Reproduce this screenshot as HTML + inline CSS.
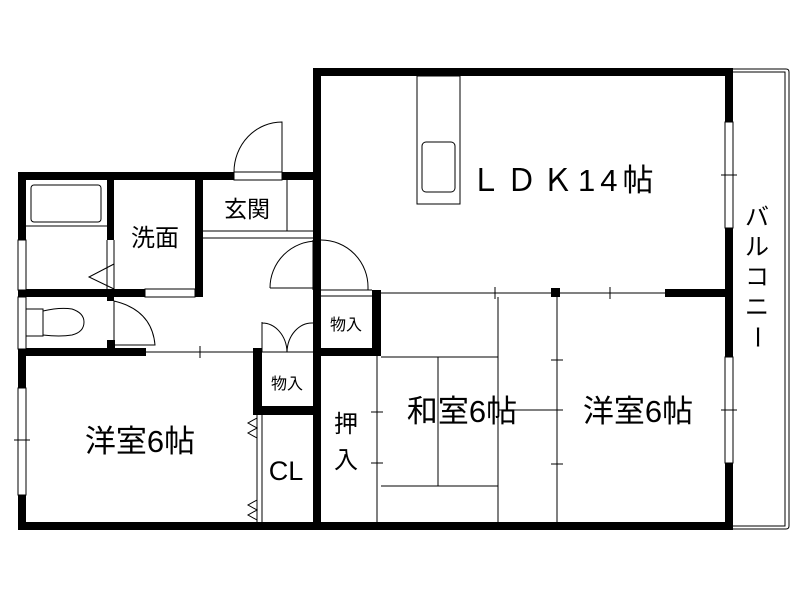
<!DOCTYPE html>
<html><head><meta charset="utf-8"><style>
html,body{margin:0;padding:0;background:#fff;}
svg{display:block;}
text{font-family:"Liberation Sans","Noto Sans CJK JP",sans-serif;fill:#000;}
</style></head><body>
<svg width="800" height="600" viewBox="0 0 800 600" xmlns="http://www.w3.org/2000/svg">
<rect width="800" height="600" fill="#fff"/>
<path d="M733 69 H786 Q789 69 789 72 V526 Q789 529 786 529 H733" fill="none" stroke="#000" stroke-width="1"/>
<path d="M733 72 H785 V526 H733" fill="none" stroke="#000" stroke-width="1"/>
<g fill="#000">
<rect x="313" y="68" width="420" height="8"/>
<rect x="313" y="68" width="8" height="462"/>
<rect x="725" y="68" width="8" height="462"/>
<rect x="18" y="172" width="216" height="8"/>
<rect x="282" y="172" width="39" height="8"/>
<rect x="18" y="172" width="8" height="358"/>
<rect x="18" y="522" width="715" height="8"/>
<rect x="107" y="180" width="7" height="60"/>
<rect x="195" y="180" width="8" height="117"/>
<rect x="18" y="289" width="127" height="8"/>
<rect x="107" y="297" width="7" height="4"/>
<rect x="107" y="340" width="8" height="10"/>
<rect x="18" y="348" width="128" height="8"/>
<rect x="253" y="348" width="9" height="66"/>
<rect x="253" y="406" width="68" height="9"/>
<rect x="372" y="290" width="9" height="66"/>
<rect x="313" y="348" width="68" height="8"/>
<rect x="665" y="289" width="68" height="8"/>
<rect x="551" y="288" width="9" height="9"/>
</g>
<g fill="none" stroke="#000" stroke-width="1">
<rect x="725" y="122" width="8" height="106" fill="#fff"/>
<rect x="725" y="357" width="8" height="106" fill="#fff"/>
<rect x="18" y="240" width="8" height="50" fill="#fff"/>
<rect x="18" y="297" width="8" height="52" fill="#fff"/>
<rect x="18" y="388" width="8" height="107" fill="#fff"/>
<line x1="14" y1="440" x2="30" y2="440"/>
<line x1="721" y1="175" x2="737" y2="175"/>
<line x1="721" y1="410" x2="737" y2="410"/>
<rect x="234" y="172" width="48" height="8" fill="#fff"/>
<path d="M282 172 V122 A48 50 0 0 0 234 172"/>
<line x1="203" y1="231" x2="313" y2="231"/>
<line x1="203" y1="238" x2="313" y2="238"/>
<line x1="287" y1="180" x2="287" y2="231"/>
<rect x="31" y="185" width="70" height="37" rx="3"/>
<line x1="26" y1="226" x2="107" y2="226"/>
<path d="M107 240 V289 M114 240 V289"/>
<path d="M114 264 L89 277 L114 289"/>
<rect x="145" y="289" width="50" height="8" fill="#fff"/>
<rect x="26" y="309" width="17" height="27"/>
<path d="M43 311 Q60 307 72 309 Q84 313 84 322 Q84 332 72 335 Q60 337 43 335"/>
<path d="M114 301 V345 H155 Q152 310 114 301"/>
<line x1="146" y1="352" x2="253" y2="352"/>
<line x1="200" y1="346" x2="200" y2="358"/>
<path d="M270 288 A47 47 0 0 1 317 241 M270 288 H317"/>
<line x1="313" y1="240" x2="313" y2="290"/>
<path d="M321 240 A47 47 0 0 1 368 288 V290"/>
<line x1="321" y1="290" x2="372" y2="290"/>
<line x1="321" y1="296" x2="372" y2="296"/>
<path d="M262 322 V352 M262 323 A25 30 0 0 1 287 352 M313 323 A25 30 0 0 0 287 352 M262 352 H313"/>
<line x1="381" y1="293" x2="665" y2="293"/>
<line x1="495" y1="287" x2="495" y2="299"/>
<line x1="610" y1="287" x2="610" y2="299"/>
<rect x="417" y="76" width="43" height="128"/>
<rect x="422" y="142" width="33" height="50" rx="4"/>
<line x1="377" y1="356" x2="377" y2="522"/>
<line x1="371" y1="412" x2="383" y2="412"/>
<line x1="371" y1="463" x2="383" y2="463"/>
<line x1="381" y1="357" x2="498" y2="357"/>
<line x1="438" y1="357" x2="438" y2="486"/>
<line x1="381" y1="486" x2="498" y2="486"/>
<line x1="498" y1="297" x2="498" y2="522"/>
<line x1="498" y1="410" x2="557" y2="410"/>
<line x1="557" y1="297" x2="557" y2="522"/>
<line x1="551" y1="360" x2="563" y2="360"/>
<line x1="551" y1="410" x2="563" y2="410"/>
<line x1="551" y1="464" x2="563" y2="464"/>
<line x1="262" y1="415" x2="262" y2="522"/>
<line x1="257" y1="415" x2="257" y2="522"/>
<path d="M257 418 L248 423 L257 428 L248 433 L257 438"/>
<path d="M257 500 L248 505 L257 510 L248 515 L257 520"/>
</g>
<text x="155" y="246" font-size="24" text-anchor="middle">洗面</text>
<text x="247" y="217" font-size="23" text-anchor="middle">玄関</text>
<text x="470" y="191" font-size="31" letter-spacing="5">ＬＤＫ14帖</text>
<text x="757" y="225" font-size="24" text-anchor="middle">バ</text>
<text x="757" y="255" font-size="24" text-anchor="middle">ル</text>
<text x="757" y="285" font-size="24" text-anchor="middle">コ</text>
<text x="757" y="315" font-size="24" text-anchor="middle">ニ</text>
<text x="757" y="345" font-size="24" text-anchor="middle" transform="rotate(90 757 337)">ー</text>
<text x="346" y="330" font-size="16" text-anchor="middle">物入</text>
<text x="287" y="389" font-size="16" text-anchor="middle">物入</text>
<text x="462" y="422" font-size="31" text-anchor="middle">和室6帖</text>
<text x="638" y="422" font-size="31" text-anchor="middle">洋室6帖</text>
<text x="140" y="452" font-size="31" text-anchor="middle">洋室6帖</text>
<text x="286" y="480" font-size="27" text-anchor="middle">CL</text>
<text x="346" y="432" font-size="24" text-anchor="middle">押</text>
<text x="346" y="468" font-size="24" text-anchor="middle">入</text>
</svg>
</body></html>
